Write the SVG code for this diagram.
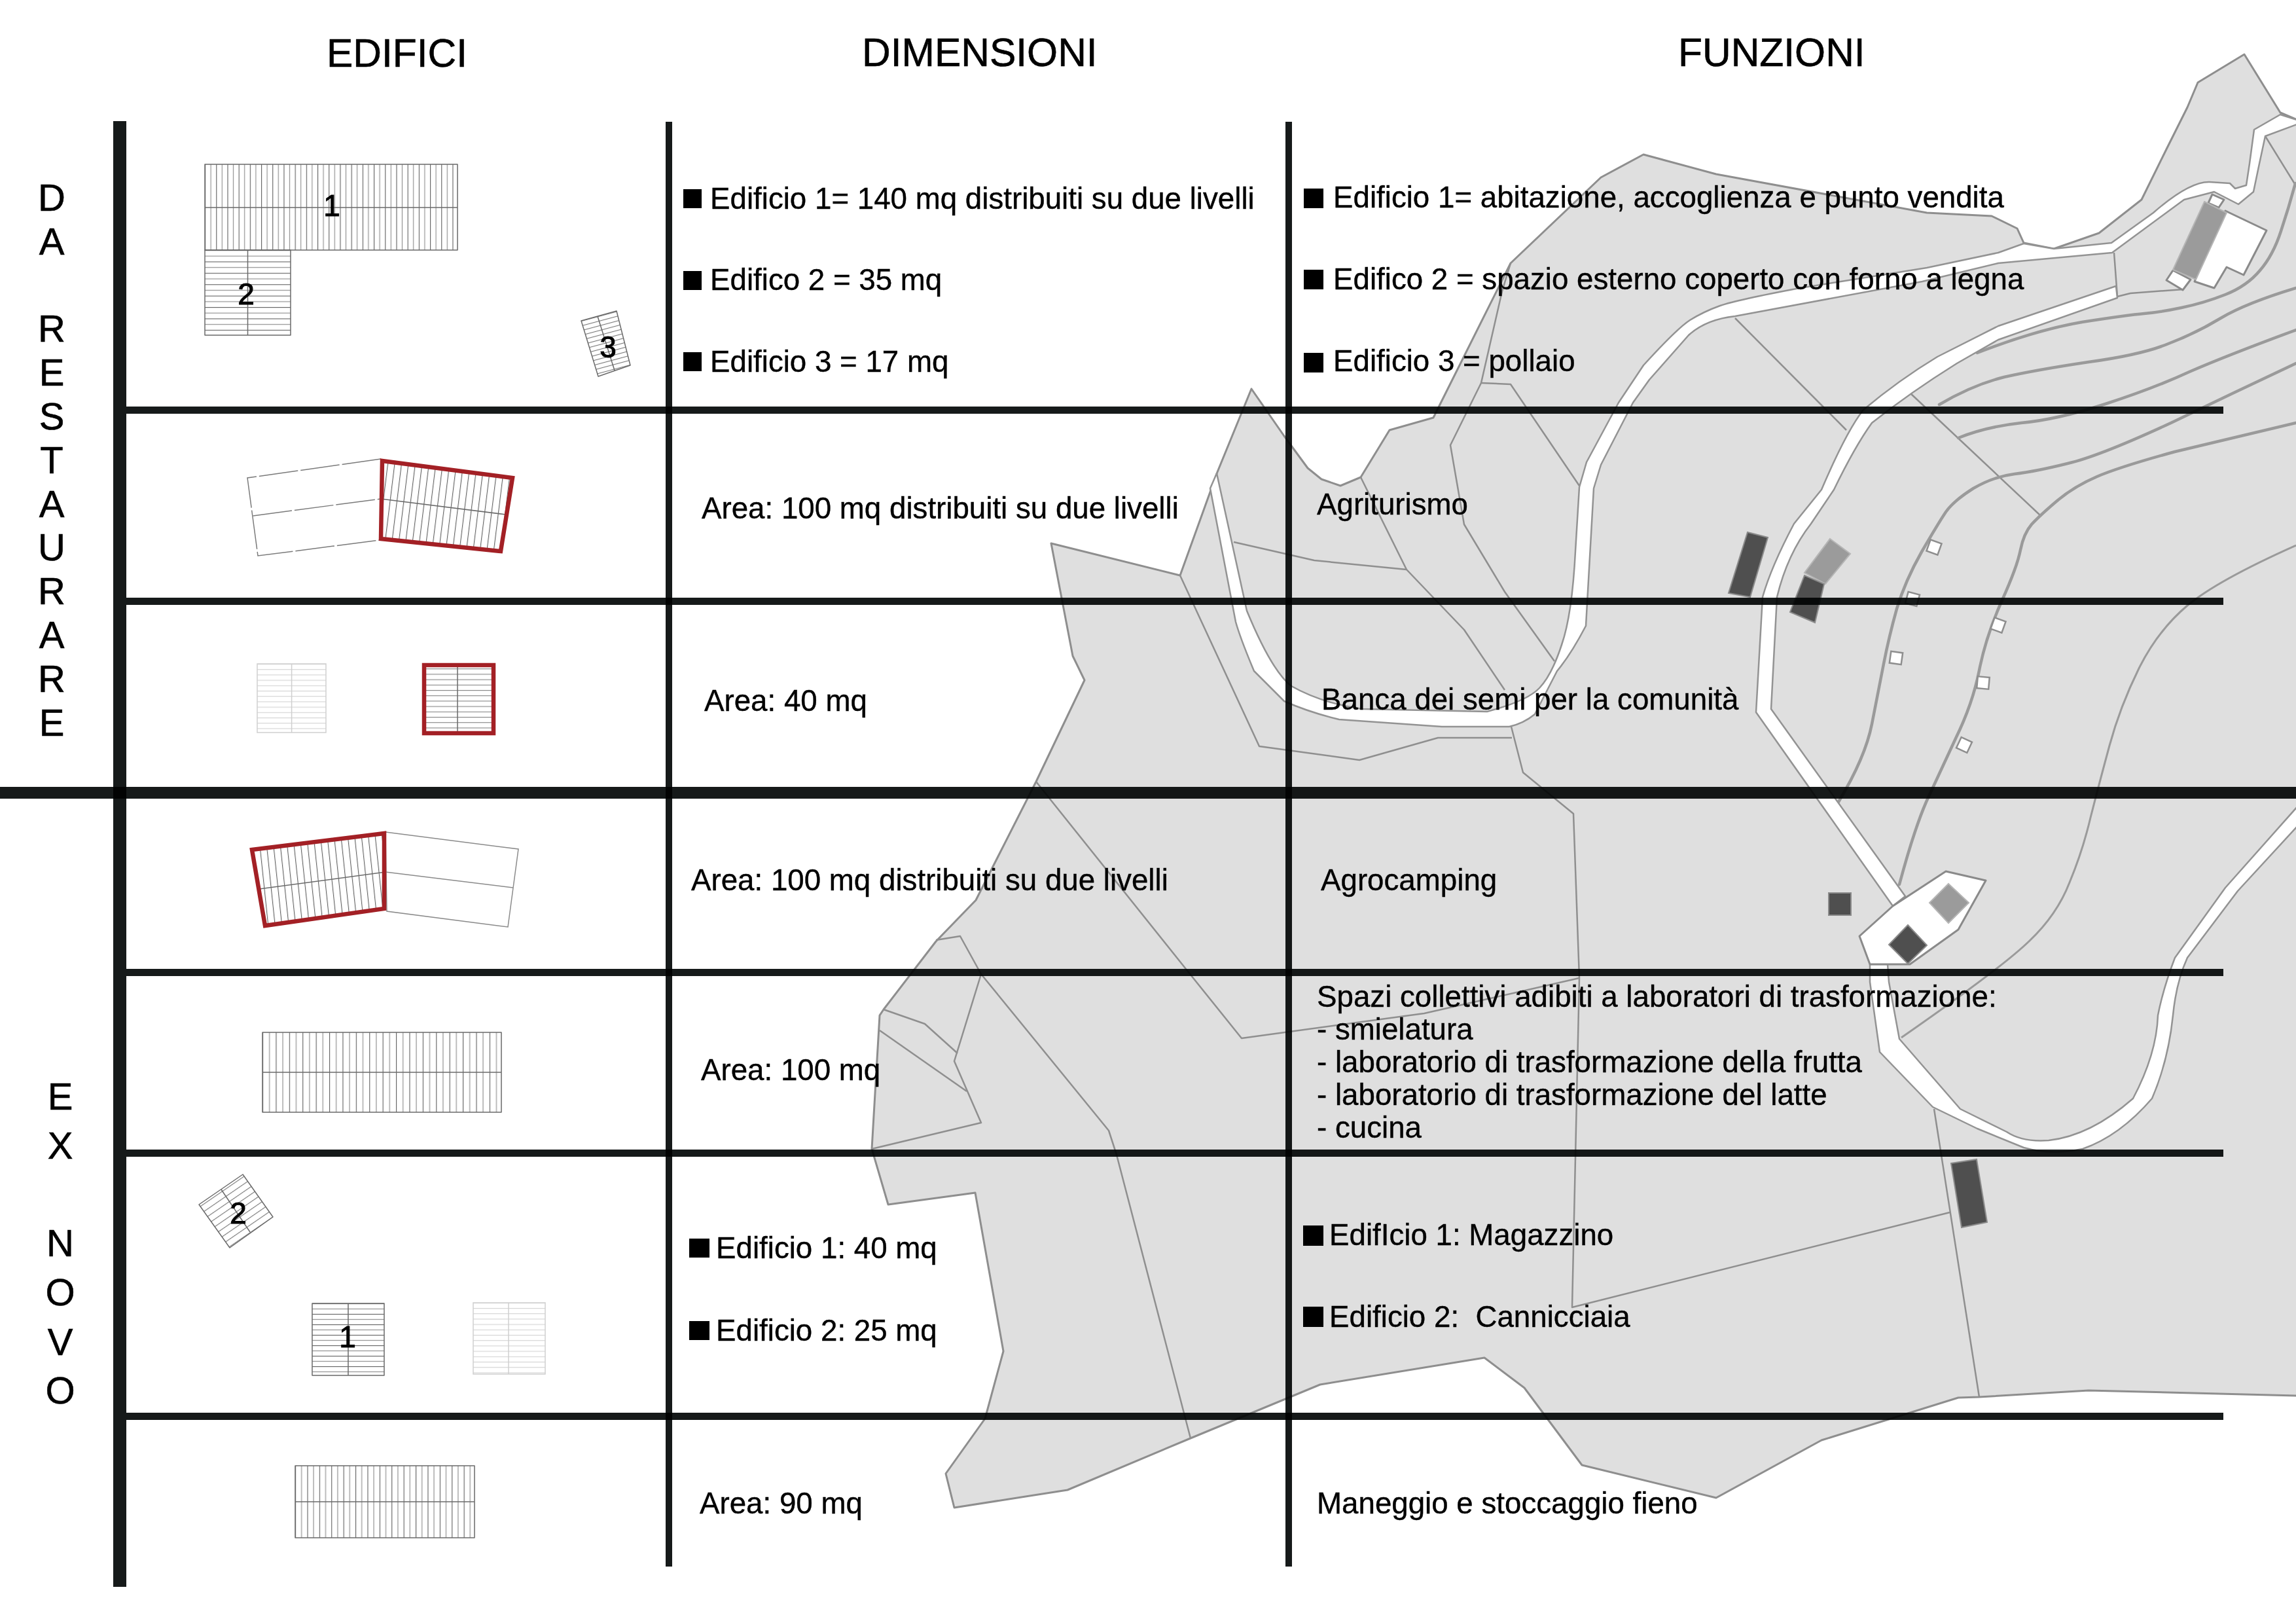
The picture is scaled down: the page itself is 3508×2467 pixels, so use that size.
<svg xmlns="http://www.w3.org/2000/svg" width="3508" height="2467" viewBox="0 0 3508 2467">
<style>
text{font-family:"Liberation Sans",Arial,sans-serif;fill:#000}
.h{font-size:60.5px;stroke:#000;stroke-width:.6}
.t{font-size:45.7px;white-space:pre;stroke:#000;stroke-width:.4}
.n{font-size:46px;text-anchor:middle;stroke:#000;stroke-width:1}
.s{font-size:58px;text-anchor:middle;stroke:#000;stroke-width:.6}
.land{fill:#dfdfdf;stroke:#8e8e8e;stroke-width:3;stroke-linejoin:round}
.road{fill:#fff;stroke:#939393;stroke-width:2.5;stroke-linejoin:round}
.b{fill:none;stroke:#8f8f8f;stroke-width:2.5;stroke-linejoin:round}
.c{fill:none;stroke:#9a9a9a;stroke-width:4.5;stroke-linejoin:round;stroke-linecap:round}
.c2{fill:none;stroke:#9a9a9a;stroke-width:3;stroke-linejoin:round}
.dk{fill:#4f4f4f;stroke:#8a8a8a;stroke-width:2}
.gy{fill:#9b9b9b;stroke:#b5b5b5;stroke-width:2}
.wh{fill:#fff;stroke:#8a8a8a;stroke-width:3;stroke-linejoin:round}
.sq{fill:#fff;stroke:#8e8e8e;stroke-width:2.5}
.bar{fill:#000}
.g{fill:#161a1a;mix-blend-mode:multiply}
.o{stroke:#6a6a6a;stroke-width:1.5;stroke-linejoin:round}
.m{stroke:#6a6a6a;stroke-width:1.5;fill:none}
.of{stroke:#cfcfcf;stroke-width:1.5}
.mf{stroke:#cfcfcf;stroke-width:1.5;fill:none}
.e{fill:none;stroke:#8a8a8a;stroke-width:1.5}
.da{fill:none;stroke:#7a7a7a;stroke-width:1.5;stroke-dasharray:60 4}
.red{fill:none;stroke:#a32025;stroke-width:6.5;stroke-linejoin:miter}
</style>
<defs>
<pattern id="v1" patternUnits="userSpaceOnUse" x="313" width="17.2" height="10"><path d="M0.5 0V10" stroke="#666" stroke-width="1.3"/><path d="M9.1 0V10" stroke="#9a9a9a" stroke-width="1.3"/></pattern>
<pattern id="v2" patternUnits="userSpaceOnUse" x="401" width="20.4" height="10"><path d="M0.5 0V10" stroke="#666" stroke-width="1.3"/><path d="M10.7 0V10" stroke="#9a9a9a" stroke-width="1.3"/></pattern>
<pattern id="v3" patternUnits="userSpaceOnUse" x="451" width="18.4" height="10"><path d="M0.5 0V10" stroke="#666" stroke-width="1.3"/><path d="M9.7 0V10" stroke="#9a9a9a" stroke-width="1.3"/></pattern>
<pattern id="h1" patternUnits="userSpaceOnUse" y="382" width="10" height="17.4"><path d="M0 0.5H10" stroke="#666" stroke-width="1.3"/><path d="M0 9.2H10" stroke="#999" stroke-width="1.3"/></pattern>
<pattern id="h2" patternUnits="userSpaceOnUse" y="1991" width="10" height="16"><path d="M0 0.5H10" stroke="#666" stroke-width="1.3"/><path d="M0 8.5H10" stroke="#999" stroke-width="1.3"/></pattern>
<pattern id="hf" patternUnits="userSpaceOnUse" y="1014" width="10" height="8.2"><path d="M0 0.5H10" stroke="#d4d4d4" stroke-width="1.3"/></pattern>
<pattern id="hr" patternUnits="userSpaceOnUse" y="1013" width="10" height="8.2"><path d="M0 0.5H10" stroke="#888" stroke-width="1.3"/></pattern>
<pattern id="h3" patternUnits="userSpaceOnUse" width="10" height="7" patternTransform="rotate(-15 888 490)"><path d="M0 0.5H10" stroke="#777" stroke-width="1.2"/></pattern>
<pattern id="h4" patternUnits="userSpaceOnUse" width="10" height="9.5" patternTransform="rotate(-34.5 304 1840)"><path d="M0 0.5H10" stroke="#777" stroke-width="1.2"/></pattern>
<pattern id="r1" patternUnits="userSpaceOnUse" width="10.4" height="10" patternTransform="rotate(7 583 701)"><path d="M0.5 0V10" stroke="#666" stroke-width="1.3"/></pattern>
<pattern id="r2" patternUnits="userSpaceOnUse" width="10.4" height="10" patternTransform="rotate(-6 589 1270)"><path d="M0.5 0V10" stroke="#666" stroke-width="1.3"/></pattern>
</defs>
<rect width="3508" height="2467" fill="#fff"/>

<g id="map">
<polygon class="land" points="1912,594 1962,666 1998,715 2019,732 2048,742 2079,729 2123,657 2190,638 2308,402 2446,271 2511,236 2622,266 2944,325 3043,330 3082,349 3092,371 3138,380 3207,356 3272,305 3310,228 3342,164 3358,126 3429,83 3484,172 3508,182 3520,182 3520,2132 3508,2132 3191,2124 3024,2134 2992,2135 2783,2200 2622,2288 2417,2238 2329,2120 2268,2074 2017,2115 1819,2197 1631,2276 1458,2303 1445,2251 1505,2167 1533,2064 1490,1822 1357,1840 1332,1755 1344,1551 1350,1542 1430,1438 1491,1375 1583,1194 1657,1039 1639,1002 1606,830 1803,879 1860,721"/>
<polyline class="b" points="1803,879 1924,1140 2077,1161 2197,1127 2310,1127"/>
<polyline class="b" points="2309,1110 2327,1180 2404,1243 2413,1494 2402,1997 2979,1852"/>
<polyline class="b" points="2955,1694 3024,2134"/>
<polyline class="b" points="1583,1194 1811,1479 1897,1586 2176,1548 2413,1494"/>
<polyline class="b" points="1430,1436 1467,1430 1499,1488 1694,1727 1706,1764 1819,2197"/>
<polyline class="b" points="1499,1488 1458,1621 1499,1715 1332,1755"/>
<polyline class="b" points="1350,1542 1413,1564 1463,1609"/>
<polyline class="b" points="1344,1574 1477,1667"/>
<polyline class="b" points="1885,828 2008,856 2149,870"/>
<polyline class="b" points="2079,729 2149,870 2237,962 2299,1054"/>
<polyline class="b" points="2308,402 2295,445 2263,585 2216,680 2237,801 2299,904 2375,1010"/>
<polyline class="b" points="2263,585 2308,587 2413,742"/>
<polyline class="b" points="2651,486 2821,657"/>
<polyline class="b" points="2918,600 3117,787"/>
<polyline class="b" points="3230,386 3235,453 3255,448 3336,442"/>
<polyline class="b" points="3461,208 3508,284"/>

<path class="c" d="M3021 539Q3111 504 3181 492 3252 481 3276 479 3300 477 3333 470 3367 463 3400 450 3433 437 3453 413 3473 390 3485 353 3497 317 3507 280"/>
<path class="c" d="M2963 618Q3014 588 3062 576 3111 565 3191 553 3272 542 3313 525 3355 509 3393 486 3432 463 3508 440"/>
<path class="c" d="M2992 669Q3034 652 3088 646 3143 641 3217 617 3291 593 3345 568 3400 544 3508 504"/>
<path class="c" d="M3508 555L3413 600 3317 646Q3207 697 3159 708 3111 720 3078 724 3046 728 3015 746 2985 765 2973 782 2961 800 2936 843 2911 887 2898 930 2886 973 2878 1014 2870 1055 2860 1106 2850 1157 2809 1225"/>
<path class="c" d="M3508 646L3323 690Q3239 713 3204 728 3169 743 3143 765 3117 787 3104 801 3092 815 3087 840 3082 866 3058 919 3034 973 3024 1024 3014 1075 2988 1128 2963 1182 2943 1225 2924 1269 2902 1351"/>
<path class="c2" d="M3508 833Q3387 887 3342 925 3297 963 3268 1021 3239 1080 3223 1139 3207 1198 3194 1249 3182 1300 3162 1348 3143 1397 3101 1437 3059 1478 2905 1585"/>

<path id="road-main" class="road" d="M1859 723L1905 933Q1943 1025 1973 1048Q2019 1074 2081 1083L2272 1087Q2333 1071 2352 1051 2371 1031 2386 985 2402 939 2407 842L2413 744 2424 706 2473 615 2511 558Q2562 502 2582 489 2603 476 2628 467 2654 458 2750 440L2944 409 3053 386 3092 372 3138 380 3226 371 3290 325Q3345 277 3376 278L3407 280 3415 288 3432 283 3437 250 3444 198 3484 175 3512 184 3512 189 3461 208 3452 250 3443 293 3420 312 3383 293 3337 305 3227 386 3053 402 2937 430 2651 483Q2606 488 2580 512L2520 580 2495 615 2446 710 2435 746 2423 956Q2400 1000 2379 1025L2345 1091Q2328 1105 2306 1110L2203 1110 2046 1099Q2000 1088 1962 1071L1916 1025Q1895 975 1888 950L1849 746Z"/>
<path id="road-south" class="road" d="M3233 437L3053 498 2960 545Q2902 580 2847 626 2821 659 2783 748L2741 800Q2706 866 2693 912L2683 1088 2892 1384 2911 1369 2706 1083 2715 912Q2731 846 2767 800L2802 748Q2834 682 2860 646 2918 600 2990 555L3053 519 3235 455Z"/>
<path id="road-loop" class="road" d="M2857 1473L2857 1500 2872 1607 2953 1691 3021 1724 3092 1753Q3133 1765 3182 1755 3239 1735 3288 1678 3313 1620 3320 1551 3325 1500 3342 1463L3419 1361 3512 1260 3512 1230 3400 1356 3323 1463Q3305 1510 3297 1551 3295 1610 3259 1678 3194 1735 3130 1742 3090 1745 3066 1729L2995 1694 2902 1587 2886 1500 2884 1473Z"/>
<polygon class="wh" points="2841,1430 2892,1384 2973,1331 3034,1345 2992,1420 2918,1473 2857,1473"/>
<polygon class="wh" points="3400,322 3463,352 3428,420 3402,408 3383,440 3353,430"/>
<polygon class="wh" points="3380,297 3398,305 3390,317 3374,310"/>
<polygon class="wh" points="3320,413 3347,427 3335,443 3310,428"/>
<polygon class="gy" points="3368,308 3402,325 3355,427 3320,412"/>
<polygon class="dk" points="2670,813 2701,821 2674,912 2641,906"/>
<polygon class="gy" points="2796,823 2827,846 2789,892 2757,875"/>
<polygon class="dk" points="2757,879 2787,892 2773,951 2735,935"/>
<rect class="dk" x="2794" y="1364" width="34" height="34"/>
<polygon class="gy" points="2977,1350 3008,1379 2977,1410 2948,1379"/>
<polygon class="dk" points="2915,1413 2944,1444 2915,1472 2886,1443"/>
<polygon class="dk" points="2981,1777 3020,1771 3036,1867 2997,1875"/>
<rect class="sq" x="2946" y="827" width="18" height="18" transform="rotate(20 2955 836)"/>
<rect class="sq" x="2913" y="906" width="18" height="18" transform="rotate(15 2922 915)"/>
<rect class="sq" x="2888" y="996" width="18" height="18" transform="rotate(8 2897 1005)"/>
<rect class="sq" x="3044" y="946" width="18" height="18" transform="rotate(20 3053 955)"/>
<rect class="sq" x="3021" y="1034" width="18" height="18" transform="rotate(5 3030 1043)"/>
<rect class="sq" x="2992" y="1129" width="18" height="18" transform="rotate(25 3001 1138)"/>
</g>

<g id="node-edificio-1"><rect class="o" x="313" y="251" width="386" height="131" fill="url(#v1)"/><path class="m" d="M313 317H699"/><text class="n" x="507" y="330">1</text></g>
<g id="node-edificio-2"><rect class="o" x="313" y="382" width="131" height="130" fill="url(#h1)"/><path class="m" d="M378.500 382V512"/><text class="n" x="376" y="465">2</text></g>
<g id="node-edificio-3"><polygon class="o" points="888,490 942,475 963,558 914,575" fill="url(#h3)"/><path class="m" d="M913 483L939 566"/><text class="n" x="929" y="546">3</text></g>

<g id="node-agriturismo"><polygon class="da" points="582,701 378,730 394,849 581,825"/><path class="da" d="M386.500 788L581.700 762"/><polygon points="583,701 786,728 767,845 581,825" fill="url(#r1)"/><path class="m" d="M581.700 762L773 786"/><polygon class="red" points="584,704 783,730 765,842 582,823"/></g>
<g id="node-banca-semi"><rect class="of" x="393" y="1014" width="105" height="105" fill="url(#hf)"/><path class="mf" d="M445.600 1014V1119"/><rect x="645" y="1013" width="112" height="110" fill="url(#hr)"/><path class="m" d="M699 1013V1123"/><rect class="red" x="648" y="1016" width="106" height="104"/></g>
<g id="node-agrocamping"><polygon points="382,1296 589,1270 589,1390 403,1417" fill="url(#r2)"/><path class="m" d="M396 1358L589 1332"/><polygon class="e" points="589,1271 792,1297 776,1416 591,1392"/><path class="e" d="M589 1332L784 1356"/><polygon class="red" points="385,1298 587,1273 587,1388 405,1414"/></g>
<g id="node-spazi-collettivi"><rect class="o" x="401" y="1577" width="365" height="122" fill="url(#v2)"/><path class="m" d="M401 1638H766"/></g>
<g id="node-magazzino"><rect class="o" x="477" y="1991" width="110" height="110" fill="url(#h2)"/><path class="m" d="M532 1991V2101"/><text class="n" x="531" y="2058">1</text></g>
<g id="node-cannicciaia"><polygon class="o" points="371,1794 417,1859 351,1906 304,1840" fill="url(#h4)"/><path class="m" d="M338 1817L382 1882"/><text class="n" x="364" y="1869">2</text></g>
<g id="node-faded"><rect class="of" x="723" y="1990" width="110" height="109" fill="url(#hf)"/><path class="mf" d="M777 1990V2099"/></g>
<g id="node-maneggio"><rect class="o" x="451" y="2239" width="274" height="110" fill="url(#v3)"/><path class="m" d="M451 2294H725"/></g>

<g id="grid">
<rect class="g" x="173" y="185" width="20" height="2239"/>
<rect class="g" x="1017" y="186" width="10" height="2207"/>
<rect class="g" x="1964" y="186" width="10" height="2207"/>
<rect class="g" x="193" y="621" width="3204" height="11"/>
<rect class="g" x="193" y="913" width="3204" height="11"/>
<rect class="g" x="0" y="1202" width="3508" height="18"/>
<rect class="g" x="193" y="1480" width="3204" height="11"/>
<rect class="g" x="193" y="1756" width="3204" height="11"/>
<rect class="g" x="193" y="2158" width="3204" height="11"/>
</g>

<g id="headers">
<text class="h" x="499" y="102">EDIFICI</text>
<text class="h" x="1317" y="101">DIMENSIONI</text>
<text class="h" x="2564" y="101">FUNZIONI</text>
</g>
<g id="side-da-restaurare">
<text class="s" x="79" y="322">D</text><text class="s" x="79" y="389">A</text>
<text class="s" x="79" y="522">R</text><text class="s" x="79" y="589">E</text><text class="s" x="79" y="656">S</text><text class="s" x="79" y="723">T</text><text class="s" x="79" y="790">A</text><text class="s" x="79" y="856">U</text><text class="s" x="79" y="923">R</text><text class="s" x="79" y="990">A</text><text class="s" x="79" y="1057">R</text><text class="s" x="79" y="1124">E</text>
</g>
<g id="side-ex-novo">
<text class="s" x="92" y="1695">E</text><text class="s" x="92" y="1770">X</text>
<text class="s" x="92" y="1919">N</text><text class="s" x="92" y="1994">O</text><text class="s" x="92" y="2070">V</text><text class="s" x="92" y="2144">O</text>
</g>
<g id="dimensioni">
<rect class="bar" x="1044" y="289" width="28" height="29"/><text class="t" x="1085" y="319">Edificio 1= 140 mq distribuiti su due livelli</text>
<rect class="bar" x="1044" y="414" width="28" height="29"/><text class="t" x="1085" y="443">Edifico 2 = 35 mq</text>
<rect class="bar" x="1044" y="538" width="28" height="29"/><text class="t" x="1085" y="568">Edificio 3 = 17 mq</text>
<text class="t" x="1072" y="792">Area: 100 mq distribuiti su due livelli</text>
<text class="t" x="1076" y="1086">Area: 40 mq</text>
<text class="t" x="1056" y="1360">Area: 100 mq distribuiti su due livelli</text>
<text class="t" x="1071" y="1650">Area: 100 mq</text>
<rect class="bar" x="1053" y="1892" width="31" height="29"/><text class="t" x="1094" y="1922">Edificio 1: 40 mq</text>
<rect class="bar" x="1053" y="2018" width="31" height="29"/><text class="t" x="1094" y="2048">Edificio 2: 25 mq</text>
<text class="t" x="1069" y="2312">Area: 90 mq</text>
</g>
<g id="funzioni">
<rect class="bar" x="1992" y="288" width="30" height="30"/><text class="t" x="2037" y="317">Edificio 1= abitazione, accoglienza e punto vendita</text>
<rect class="bar" x="1992" y="412" width="30" height="30"/><text class="t" x="2037" y="442">Edifico 2 = spazio esterno coperto con forno a legna</text>
<rect class="bar" x="1992" y="539" width="30" height="30"/><text class="t" x="2037" y="567">Edificio 3 = pollaio</text>
<text class="t" x="2012" y="786">Agriturismo</text>
<text class="t" x="2019" y="1084">Banca dei semi per la comunità</text>
<text class="t" x="2018" y="1360">Agrocamping</text>
<text class="t" x="2012" y="1538">Spazi collettivi adibiti a laboratori di trasformazione:</text>
<text class="t" x="2012" y="1588">- smielatura</text>
<text class="t" x="2012" y="1638">- laboratorio di trasformazione della frutta</text>
<text class="t" x="2012" y="1688">- laboratorio di trasformazione del latte</text>
<text class="t" x="2012" y="1738">- cucina</text>
<rect class="bar" x="1991" y="1872" width="31" height="31"/><text class="t" x="2031" y="1902">EdifIcio 1: Magazzino</text>
<rect class="bar" x="1991" y="1996" width="31" height="31"/><text class="t" x="2031" y="2027">Edificio 2:  Cannicciaia</text>
<text class="t" x="2012" y="2312">Maneggio e stoccaggio fieno</text>
</g>
</svg>
